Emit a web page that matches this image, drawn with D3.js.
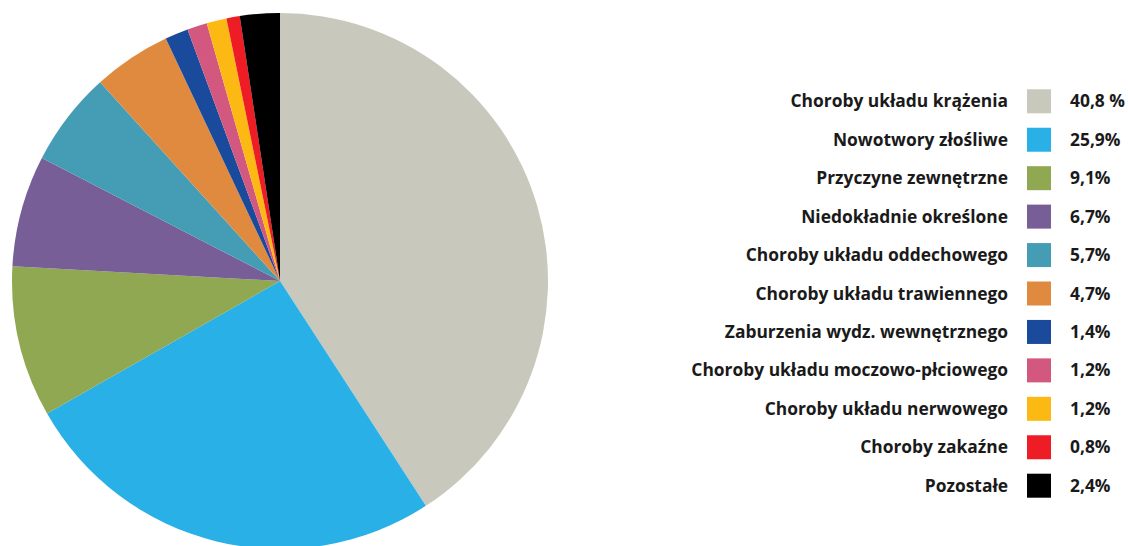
<!DOCTYPE html>
<html>
<head>
<meta charset="utf-8">
<script src="https://cdn.jsdelivr.net/npm/d3@7"></script>
<style>
  html, body { margin: 0; padding: 0; background: #fff; }
  svg { display: block; }
  text { font-family: "Open Sans", "Noto Sans", sans-serif; font-weight: 700; font-size: 17.4px; fill: #1a1a1a; }
</style>
</head>
<body>
<svg id="chart" width="1128" height="546"></svg>
<script>
// Causes of death – share of total (%)
const categories = [
  "Choroby układu krążenia",
  "Nowotwory złośliwe",
  "Przyczyne zewnętrzne",
  "Niedokładnie określone",
  "Choroby układu oddechowego",
  "Choroby układu trawiennego",
  "Zaburzenia wydz. wewnętrznego",
  "Choroby układu moczowo-płciowego",
  "Choroby układu nerwowego",
  "Choroby zakaźne",
  "Pozostałe"
];
const values = [40.8, 25.9, 9.1, 6.7, 5.7, 4.7, 1.4, 1.2, 1.2, 0.8, 2.4];
const valueLabels = ["40,8 %", "25,9%", "9,1%", "6,7%", "5,7%", "4,7%", "1,4%", "1,2%", "1,2%", "0,8%", "2,4%"];
const colors = ["#c8c8bc", "#29b0e6", "#8fa851", "#785e96", "#449db5", "#e08a40",
                "#1a4a9b", "#d3587f", "#fdb913", "#ee1c25", "#000000"];

const svg = d3.select("#chart");

// Pie
const cx = 280, cy = 281, radius = 268;
const pie = d3.pie().sort(null).value(d => d.value);
const arc = d3.arc().innerRadius(0).outerRadius(radius);
const data = categories.map((c, i) => ({ name: c, value: values[i], color: colors[i] }));

svg.append("g")
  .attr("transform", `translate(${cx},${cy})`)
  .selectAll("path")
  .data(pie(data))
  .join("path")
  .attr("d", arc)
  .attr("fill", d => d.data.color);

// Legend
const rowY = d3.scalePoint().domain(categories).range([101.3, 485.7]);
const swatchX = 1027, swatch = 24;

const legend = svg.append("g");
const rows = legend.selectAll("g")
  .data(data)
  .join("g")
  .attr("transform", d => `translate(0,${rowY(d.name)})`);

rows.append("text")
  .attr("x", 1008)
  .attr("dy", "0.35em")
  .attr("text-anchor", "end")
  .text(d => d.name);

rows.append("rect")
  .attr("x", swatchX)
  .attr("y", -swatch / 2)
  .attr("width", swatch)
  .attr("height", swatch)
  .attr("fill", d => d.color);

rows.append("text")
  .attr("x", 1070)
  .attr("dy", "0.35em")
  .text((d, i) => valueLabels[i]);
</script>
</body>
</html>
